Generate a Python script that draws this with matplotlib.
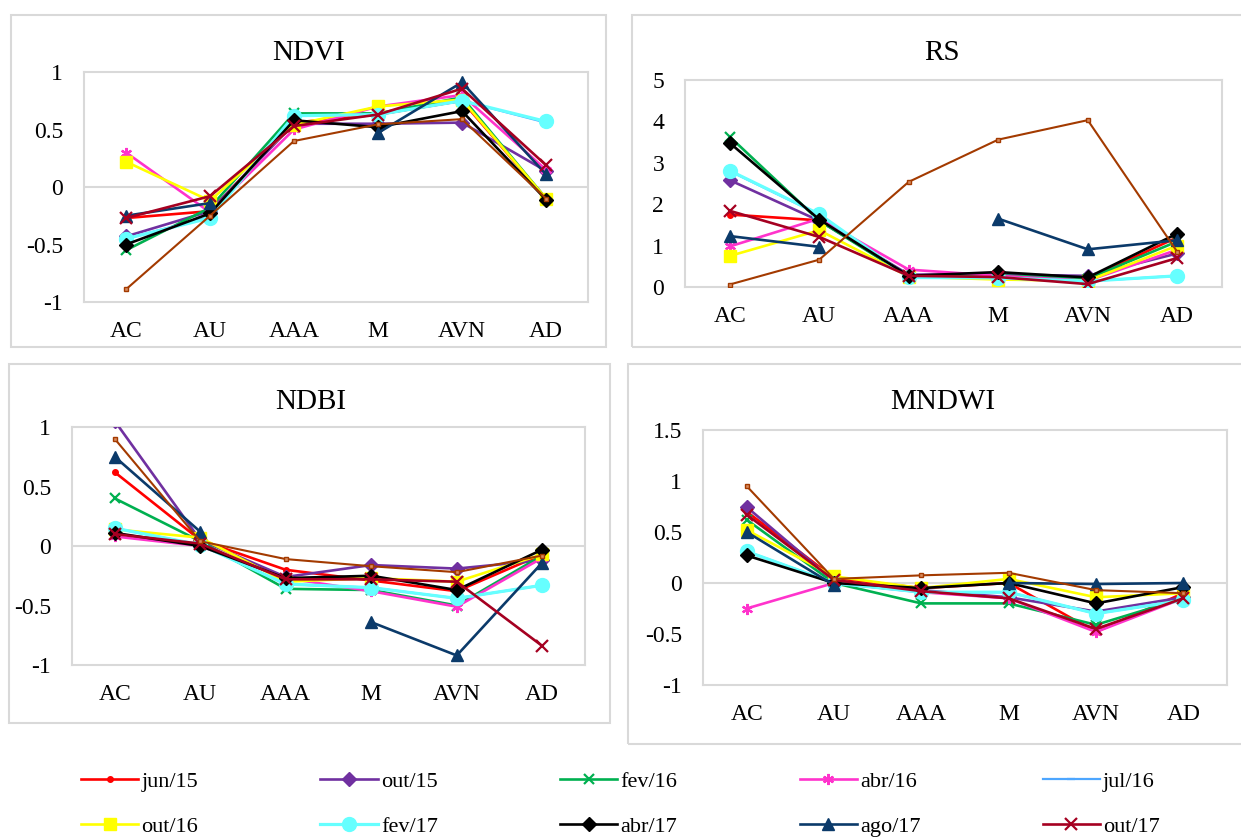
import numpy as np
import matplotlib
matplotlib.use("Agg")
import matplotlib.pyplot as plt
from matplotlib.patches import Rectangle

plt.rcParams["font.family"] = ["Liberation Serif", "DejaVu Serif"]

W, H = 1241, 838

CLASSES = ["AC", "AU", "AAA", "M", "AVN", "AD"]
DATES = ["jun/15", "out/15", "fev/16", "abr/16", "jul/16",
         "out/16", "fev/17", "abr/17", "ago/17", "out/17"]
nan = np.nan

# one row per date (plus the extra brown series at the end), columns follow CLASSES
NDVI = [
    [-0.27, -0.21, 0.56, 0.63, 0.75, -0.10],
    [-0.43, -0.21, 0.55, 0.55, 0.56, 0.14],
    [-0.55, -0.18, 0.64, 0.64, 0.78, -0.10],
    [0.30, -0.22, 0.50, 0.70, 0.80, 0.15],
    [-0.45, -0.26, 0.62, 0.63, 0.75, 0.56],
    [0.22, -0.12, 0.54, 0.70, 0.76, -0.10],
    [-0.45, -0.27, 0.62, 0.63, 0.75, 0.57],
    [-0.50, -0.23, 0.58, 0.52, 0.66, -0.11],
    [-0.25, -0.14, nan, 0.47, 0.91, 0.11],
    [-0.27, -0.08, 0.53, 0.63, 0.855, 0.19],
    [-0.89, -0.25, 0.40, 0.545, 0.59, -0.10],
]
RS = [
    [1.75, 1.61, 0.27, 0.27, 0.20, 1.20],
    [2.58, 1.60, 0.30, 0.30, 0.27, 0.81],
    [3.63, 1.60, 0.25, 0.28, 0.20, 1.10],
    [0.98, 1.65, 0.42, 0.27, 0.15, 0.90],
    [2.80, 1.75, 0.23, 0.22, 0.14, 0.27],
    [0.75, 1.37, 0.25, 0.18, 0.15, 1.00],
    [2.81, 1.76, 0.23, 0.22, 0.14, 0.27],
    [3.48, 1.63, 0.27, 0.36, 0.23, 1.29],
    [1.23, 0.97, nan, 1.65, 0.91, 1.13],
    [1.84, 1.21, 0.27, 0.24, 0.07, 0.70],
    [0.06, 0.66, 2.54, 3.56, 4.03, 0.85],
]
NDBI = [
    [0.62, 0.05, -0.20, -0.29, -0.38, -0.07],
    [1.05, 0.05, -0.26, -0.16, -0.19, -0.12],
    [0.40, 0.04, -0.36, -0.37, -0.50, -0.08],
    [0.08, 0.00, -0.27, -0.38, -0.51, -0.10],
    [0.15, 0.01, -0.32, -0.35, -0.44, -0.33],
    [0.14, 0.07, -0.30, -0.27, -0.30, -0.07],
    [0.15, 0.01, -0.32, -0.35, -0.44, -0.33],
    [0.11, 0.00, -0.27, -0.25, -0.37, -0.03],
    [0.75, 0.12, nan, -0.64, -0.92, -0.14],
    [0.10, 0.02, -0.28, -0.28, -0.30, -0.84],
    [0.90, 0.04, -0.11, -0.17, -0.22, -0.08],
]
MNDWI = [
    [0.70, 0.05, -0.05, 0.00, -0.48, -0.10],
    [0.745, 0.02, -0.07, -0.14, -0.28, -0.14],
    [0.62, 0.00, -0.20, -0.20, -0.41, -0.15],
    [-0.25, 0.00, -0.09, -0.15, -0.48, -0.15],
    [0.31, 0.00, -0.09, -0.09, -0.30, -0.17],
    [0.52, 0.065, -0.05, 0.04, -0.14, -0.10],
    [0.31, 0.00, -0.09, -0.09, -0.30, -0.17],
    [0.27, 0.00, -0.05, 0.00, -0.20, -0.04],
    [0.50, -0.02, nan, 0.00, -0.01, 0.00],
    [0.67, 0.03, -0.08, -0.15, -0.45, -0.15],
    [0.95, 0.04, 0.075, 0.10, -0.07, -0.10],
]

COLORS = ["#FF0000", "#7030A0", "#00B050", "#FF33CC", "#4DA6FF",
          "#FFFF00", "#66FFFF", "#000000", "#0B3A6A", "#A50021", "#A33A00"]
MARKERS = ["o", "D", "x", (6, 2, 0), "_", "s", "o", "D", "^", "x", "s"]
MSIZES = [4, 7, 7, 8, 6, 8.5, 10, 7, 8.5, 8, 3.5]
LWIDTHS = [1.9, 1.9, 1.9, 1.9, 1.6, 1.9, 2.3, 1.9, 1.9, 1.9, 1.5]

GRID = "#D9D9D9"


def px_axes(fig, left, top, right, bottom):
    return fig.add_axes([left / W, 1 - bottom / H, (right - left) / W, (bottom - top) / H])


def panel_box(fig, left, top, right, bottom):
    fig.patches.append(Rectangle((left / W, 1 - bottom / H), (right - left) / W,
                                 (bottom - top) / H, transform=fig.transFigure,
                                 fill=False, edgecolor=GRID, linewidth=1.5, zorder=0))


def draw_panel(ax, rows, ylim, yticks):
    x = np.arange(len(CLASSES))
    for i, vals in enumerate(rows):
        label = DATES[i] if i < len(DATES) else "_nolegend_"
        mk = MARKERS[i]
        ax.plot(x, vals, color=COLORS[i], lw=LWIDTHS[i], marker=mk, ms=MSIZES[i],
                mew=1.6 if mk in ("x", "_") or isinstance(mk, tuple) else 1.0,
                mfc=COLORS[i] if i < 10 else "#D98C5F", mec=COLORS[i],
                label=label, clip_on=True, zorder=3)
    ax.set_xlim(-0.5, len(CLASSES) - 0.5)
    ax.set_ylim(*ylim)
    ax.set_yticks(yticks)
    ax.set_yticklabels(["%g" % t for t in yticks])
    ax.set_xticks(x)
    ax.set_xticklabels(CLASSES)
    ax.tick_params(length=0, labelsize=17, pad=14)
    ax.tick_params(axis="y", pad=15)
    if ylim[0] < 0 < ylim[1]:
        ax.axhline(0, color=GRID, lw=1.5, zorder=1)
    for s in ax.spines.values():
        s.set_color(GRID)
        s.set_linewidth(1.5)


def panel_title(fig, text, cx, cy):
    fig.text(cx / W, 1 - cy / H, text, fontsize=21, ha="center", va="center")


fig = plt.figure(figsize=(W / 100, H / 100), dpi=100)

panel_box(fig, 11, 15, 606, 347)
panel_box(fig, 632, 15, 1250, 347)
panel_box(fig, 9, 364, 610, 723)
panel_box(fig, 628, 364, 1250, 744)

ax1 = px_axes(fig, 84, 72, 588, 302)
draw_panel(ax1, NDVI, (-1, 1), [-1, -0.5, 0, 0.5, 1])
panel_title(fig, "NDVI", 309, 53)

ax2 = px_axes(fig, 685, 80, 1222, 287)
draw_panel(ax2, RS, (0, 5), [0, 1, 2, 3, 4, 5])
panel_title(fig, "RS", 942, 53)

ax3 = px_axes(fig, 72, 427, 585, 665)
draw_panel(ax3, NDBI, (-1, 1), [-1, -0.5, 0, 0.5, 1])
panel_title(fig, "NDBI", 311, 402)

ax4 = px_axes(fig, 703, 430, 1227, 685)
draw_panel(ax4, MNDWI, (-1, 1.5), [-1, -0.5, 0, 0.5, 1, 1.5])
panel_title(fig, "MNDWI", 943, 402)

handles, labels = ax1.get_legend_handles_labels()
# legend reads row by row, five entries per row
order = [0, 5, 1, 6, 2, 7, 3, 8, 4, 9]
fig.legend([handles[i] for i in order], [labels[i] for i in order], ncol=5,
           loc="center", bbox_to_anchor=(0.5, 1 - 804 / H), frameon=False,
           fontsize=16, handlelength=2.57, handletextpad=0.15,
           columnspacing=5.5, labelspacing=1.12)

fig.savefig("out.png", dpi=100)
